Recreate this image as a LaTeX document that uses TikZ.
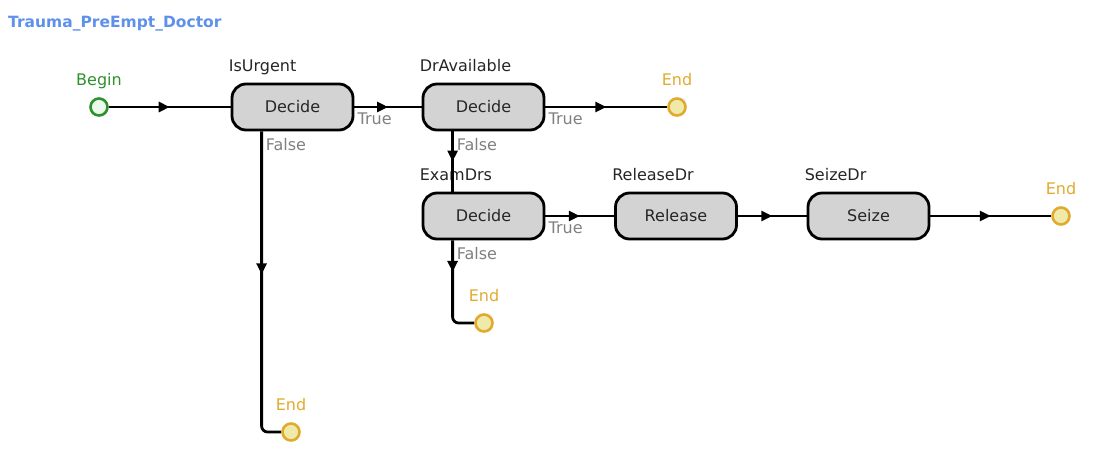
\documentclass[tikz,border=0pt]{standalone}
\usepackage{fontspec}
\setmainfont{DejaVu Sans}
\usetikzlibrary{arrows.meta,decorations.markings,calc}

\definecolor{boxgray}{RGB}{211,211,211}
\definecolor{titleblue}{RGB}{95,145,235}
\definecolor{begingreen}{RGB}{45,145,45}
\definecolor{beginfill}{RGB}{236,250,236}
\definecolor{endgold}{RGB}{225,170,45}
\definecolor{endfill}{RGB}{240,234,170}
\definecolor{branchgray}{RGB}{128,128,128}

\tikzset{
  stepbox/.style={draw=black, line width=2.8pt, fill=boxgray, rounded corners=14pt,
    minimum width=121pt, minimum height=46pt, inner sep=0pt, text=black!85,
    font=\fontsize{16}{19}\selectfont},
  stepname/.style={anchor=base west, inner sep=0pt, xshift=-2pt, yshift=11pt,
    text=black!85, font=\fontsize{16}{19}\selectfont},
  branch/.style={anchor=base west, inner sep=0pt, text=branchgray,
    font=\fontsize{16}{19}\selectfont},
  beginpt/.style={circle, draw=begingreen, fill=beginfill, line width=2.6pt,
    minimum size=17pt, inner sep=0pt},
  endpt/.style={circle, draw=endgold, fill=endfill, line width=2.6pt,
    minimum size=17pt, inner sep=0pt},
  ptname/.style={anchor=base, inner sep=0pt, yshift=22pt,
    font=\fontsize{16}{19}\selectfont},
  flow/.style={draw=black, line width=2.8pt, rounded corners=6pt, postaction={decorate},
    decoration={markings, mark=at position #1 with {\arrow{Triangle[length=11pt,width=10pt]}}}},
  flow/.default=0.5
}

\begin{document}
\begin{tikzpicture}[x=1pt,y=-1pt]
    \useasboundingbox (0,0) rectangle (1114,472);

    \node[anchor=base west, inner sep=0pt, text=titleblue,
      font=\fontsize{15.5}{18}\selectfont\bfseries] (title) at (8,27) {Trauma\_PreEmpt\_Doctor};

    % start and end points
    \node[beginpt] (begin) at (99,107) {};
    \node[endpt] (end1) at (677,107) {};
    \node[endpt] (end2) at (1061,216) {};
    \node[endpt] (end3) at (484,323) {};
    \node[endpt] (end4) at (291,432) {};
    \node[ptname, text=begingreen] at (begin.center) {Begin};
    \foreach \e in {end1,end2,end3,end4}
      \node[ptname, text=endgold] at (\e.center) {End};

    % steps
    \node[stepbox] (urgent) at (292.5,107) {Decide};
    \node[stepbox] (avail) at (483.5,107) {Decide};
    \node[stepbox] (exam) at (483.5,216) {Decide};
    \node[stepbox] (release) at (676,216) {Release};
    \node[stepbox] (seize) at (868.5,216) {Seize};
    \node[stepname] at (urgent.north west) {IsUrgent};
    \node[stepname] at (avail.north west) {DrAvailable};
    \node[stepname] at (exam.north west) {ExamDrs};
    \node[stepname] at (release.north west) {ReleaseDr};
    \node[stepname] at (seize.north west) {SeizeDr};

    % false exits
    \coordinate (urgentF) at ($(urgent.south west)+(31,0)$);
    \coordinate (availF) at ($(avail.south west)+(31,0)$);
    \coordinate (examIn) at ($(exam.north west)+(31,0)$);
    \coordinate (examF) at ($(exam.south west)+(31,0)$);

    % connectors
    \draw[flow] (begin) -- (urgent);
    \draw[flow] (urgent) -- (avail);
    \draw[flow] (avail) -- (end1);
    \draw[flow] (availF) -- (examIn);
    \draw[flow] (exam) -- (release);
    \draw[flow] (release) -- (seize);
    \draw[flow] (seize) -- (end2);
    \draw[flow=0.31] (examF) |- (end3);
    \draw[flow=0.45] (urgentF) |- (end4);

    % branch labels
    \node[branch, xshift=3pt, yshift=-17pt] at (urgent.east) {True};
    \node[branch, xshift=3pt, yshift=-17pt] at (avail.east) {True};
    \node[branch, xshift=3pt, yshift=-17pt] at (exam.east) {True};
    \node[branch, xshift=4pt, yshift=-19pt] at (urgentF) {False};
    \node[branch, xshift=4pt, yshift=-19pt] at (availF) {False};
    \node[branch, xshift=4pt, yshift=-19pt] at (examF) {False};
\end{tikzpicture}
\end{document}
